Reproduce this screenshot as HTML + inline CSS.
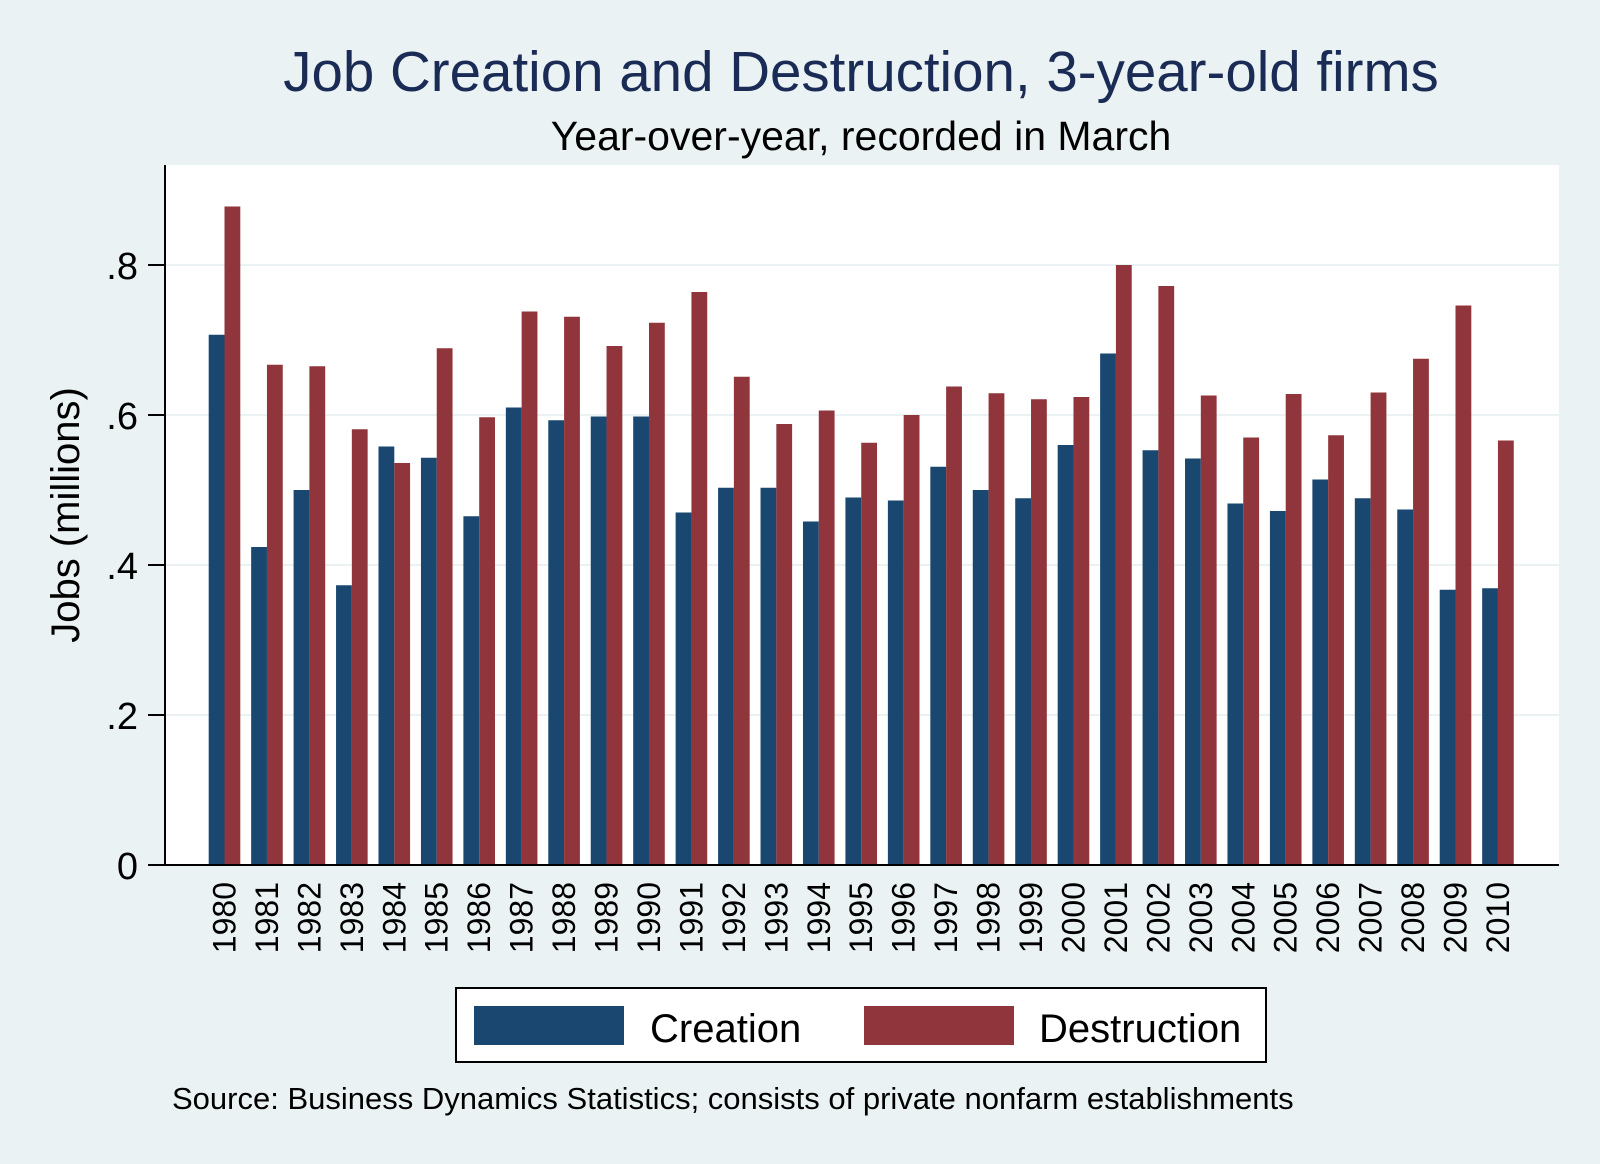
<!DOCTYPE html>
<html><head><meta charset="utf-8"><style>
html,body{margin:0;padding:0;background:#eaf2f3;}
svg{display:block;font-family:"Liberation Sans",Arial,sans-serif;}
</style></head><body>
<svg id="chart" width="1600" height="1164" viewBox="0 0 1600 1164">
<rect x="0" y="0" width="1600" height="1164" fill="#eaf2f3"/>
<text x="861" y="91" text-anchor="middle" font-size="56.5" fill="#1a2b55">Job Creation and Destruction, 3-year-old firms</text>
<text x="861" y="150" text-anchor="middle" font-size="41" fill="#000">Year-over-year, recorded in March</text>
<rect x="165" y="165" width="1394" height="700" fill="#ffffff"/>
<g id="grid"></g>
<g id="bars"></g>
<line x1="165" y1="165" x2="165" y2="866" stroke="#000" stroke-width="2"/>
<line x1="148" y1="865" x2="1559" y2="865" stroke="#000" stroke-width="2"/>
<g id="yticks"></g>
<g id="xticks"></g>
<text transform="translate(79,515) rotate(-90)" text-anchor="middle" font-size="40" fill="#000">Jobs (millions)</text>
<rect x="456" y="988" width="810" height="74" fill="#fff" stroke="#000" stroke-width="2"/>
<rect x="474" y="1006" width="150" height="39" fill="#1a476f"/>
<text x="650" y="1042" font-size="40" fill="#000">Creation</text>
<rect x="864" y="1006" width="150" height="39" fill="#90353b"/>
<text x="1039" y="1042" font-size="40" fill="#000">Destruction</text>
<text x="172" y="1109" font-size="31" fill="#000">Source: Business Dynamics Statistics; consists of private nonfarm establishments</text>
</svg>
<script>
const years = [1980,1981,1982,1983,1984,1985,1986,1987,1988,1989,1990,1991,1992,1993,1994,1995,1996,1997,1998,1999,2000,2001,2002,2003,2004,2005,2006,2007,2008,2009,2010];
const creation = [.707,.424,.50,.373,.558,.543,.465,.61,.593,.598,.598,.47,.503,.503,.458,.49,.486,.531,.50,.489,.56,.682,.553,.542,.482,.472,.514,.489,.474,.367,.369];
const destruction = [.878,.667,.665,.581,.536,.689,.597,.738,.731,.692,.723,.764,.651,.588,.606,.563,.600,.638,.629,.621,.624,.800,.772,.626,.570,.628,.573,.630,.675,.746,.566];
const yTicks = [0,.2,.4,.6,.8];
const yTickLabels = ["0",".2",".4",".6",".8"];
const NS="http://www.w3.org/2000/svg";
function yScale(v){return 865 - v*750;}
function xCenter(i){return 224.5 + i*(1468-220)*1.0204/30;}
const bw=15.8;
function mk(tag,attrs,parent){const e=document.createElementNS(NS,tag);for(const k in attrs)e.setAttribute(k,attrs[k]);document.getElementById(parent).appendChild(e);return e;}
yTicks.forEach((t,i)=>{
  if(t>0){const g=mk('line',{x1:166,x2:1559,y1:yScale(t),y2:yScale(t),stroke:'#eaf2f3','stroke-width':2},'grid');
  
  }
  const tk=mk('line',{x1:148,x2:165,y1:yScale(t),y2:yScale(t),stroke:'#000','stroke-width':2},'yticks');
  
  
  const tx=mk('text',{x:138,y:yScale(t)+14,'text-anchor':'end','font-size':38,fill:'#000'},'yticks');
  tx.textContent=yTickLabels[i];
  
  
});
years.forEach((y,i)=>{
  const c=xCenter(i);
  const b1=mk('rect',{x:c-bw,y:yScale(creation[i]),width:bw,height:865-yScale(creation[i]),fill:'#1a476f'},'bars');
  
  
  const b2=mk('rect',{x:c,y:yScale(destruction[i]),width:bw,height:865-yScale(destruction[i]),fill:'#90353b'},'bars');
  
  
  const t=mk('text',{transform:'translate('+(c+11)+',882) rotate(-90)','text-anchor':'end','font-size':32,fill:'#000'},'xticks');
  t.textContent=y;
  
  
});
</script>
</body></html>
